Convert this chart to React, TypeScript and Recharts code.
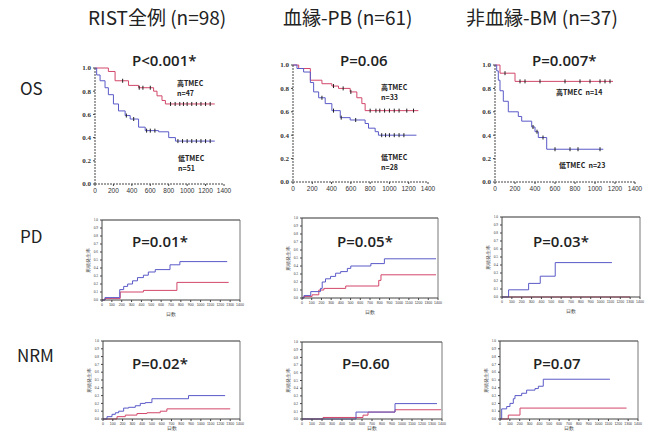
import React from 'react';
import { ComposedChart, Line, Scatter, XAxis, YAxis, ReferenceLine } from 'recharts';

type Pt = [number, number];

// Overall survival (OS): [day, survival]
const osAllHigh: Pt[] = [[0, 1], [145, 0.97], [218, 0.89], [364, 0.85], [473, 0.83], [636, 0.8], [673, 0.76], [727, 0.72], [764, 0.69], [1300, 0.69]];
const osAllLow: Pt[] = [[0, 1], [18, 0.94], [55, 0.89], [109, 0.83], [145, 0.77], [200, 0.69], [255, 0.63], [327, 0.59], [382, 0.56], [473, 0.49], [545, 0.46], [691, 0.45], [800, 0.4], [873, 0.37], [1300, 0.37]];
const osPbHigh: Pt[] = [[0, 1], [59, 0.97], [180, 0.87], [300, 0.84], [403, 0.82], [472, 0.8], [593, 0.77], [662, 0.72], [714, 0.67], [748, 0.61], [1300, 0.61]];
const osPbLow: Pt[] = [[0, 1], [41, 0.97], [110, 0.94], [180, 0.85], [214, 0.77], [266, 0.72], [334, 0.67], [403, 0.61], [490, 0.55], [593, 0.53], [748, 0.5], [783, 0.46], [852, 0.43], [886, 0.4], [1280, 0.4]];
const osBmHigh: Pt[] = [[0, 1], [50, 0.93], [200, 0.86], [1180, 0.86]];
const osBmLow: Pt[] = [[0, 1], [17, 0.95], [33, 0.87], [50, 0.78], [83, 0.69], [133, 0.6], [233, 0.56], [267, 0.52], [367, 0.47], [400, 0.43], [433, 0.38], [517, 0.28], [1083, 0.28]];

// censored cases (days)
const osAllHighCensor = [300, 480, 520, 600, 820, 870, 920, 960, 1000, 1050, 1100, 1150, 1200, 1250];
const osAllLowCensor = [340, 420, 560, 600, 650, 900, 950, 1000, 1050, 1100, 1150, 1200, 1250];
const osPbHighCensor = [420, 520, 600, 800, 860, 900, 950, 1000, 1050, 1100, 1180, 1250];
const osPbLowCensor = [300, 420, 500, 650, 920, 960, 1000, 1050, 1100, 1150];
const osBmHighCensor = [100, 250, 300, 450, 700, 850, 950, 1050, 1100, 1150];
const osBmLowCensor = [380, 420, 480, 600, 750, 830, 1050];

// Progression (PD): [day, cumulative incidence]
const pdAllHigh: Pt[] = [[0, 0], [30, 0.02], [185, 0.1], [420, 0.12], [760, 0.22], [1285, 0.22]];
const pdAllLow: Pt[] = [[0, 0], [30, 0.03], [180, 0.13], [220, 0.17], [260, 0.2], [310, 0.24], [360, 0.28], [420, 0.31], [470, 0.35], [540, 0.38], [690, 0.44], [790, 0.48], [1270, 0.48]];
const pdPbHigh: Pt[] = [[0, 0], [20, 0.02], [104, 0.04], [173, 0.1], [225, 0.12], [450, 0.15], [790, 0.22], [813, 0.29], [1380, 0.29]];
const pdPbLow: Pt[] = [[0, 0], [20, 0.03], [90, 0.08], [190, 0.12], [208, 0.2], [242, 0.24], [294, 0.27], [346, 0.31], [398, 0.33], [467, 0.37], [502, 0.4], [709, 0.43], [848, 0.49], [1380, 0.49]];
const pdBmHigh: Pt[] = [[0, 0], [1300, 0]];
const pdBmLow: Pt[] = [[0, 0], [67, 0.09], [270, 0.17], [388, 0.26], [540, 0.43], [1115, 0.43]];

// Non-relapse mortality (NRM)
const nrmAllHigh: Pt[] = [[0, 0], [143, 0.03], [228, 0.05], [347, 0.07], [449, 0.08], [585, 0.1], [653, 0.13], [1300, 0.13]];
const nrmAllLow: Pt[] = [[0, 0], [41, 0.03], [92, 0.06], [126, 0.08], [160, 0.1], [211, 0.14], [262, 0.15], [330, 0.17], [381, 0.2], [432, 0.21], [500, 0.26], [874, 0.3], [1248, 0.3]];
const nrmPbHigh: Pt[] = [[0, 0], [210, 0.02], [610, 0.05], [660, 0.09], [930, 0.12], [1390, 0.12]];
const nrmPbLow: Pt[] = [[0, 0], [540, 0.09], [930, 0.2], [1350, 0.2]];
const nrmBmHigh: Pt[] = [[0, 0], [84, 0.05], [203, 0.14], [1284, 0.14]];
const nrmBmLow: Pt[] = [[0, 0], [17, 0.13], [68, 0.16], [101, 0.2], [135, 0.26], [152, 0.3], [220, 0.33], [270, 0.37], [355, 0.39], [389, 0.42], [439, 0.51], [1115, 0.51]];

const groupTitles = ['RIST全例 (n=98)', '血縁-PB (n=61)', '非血縁-BM (n=37)'];
const osP = ['P<0.001*', 'P=0.06', 'P=0.007*'];
const pdP = ['P=0.01*', 'P=0.05*', 'P=0.03*'];
const nrmP = ['P=0.02*', 'P=0.60', 'P=0.07'];
const highN = [47, 33, 14];
const lowN = [51, 28, 23];

const osTicks = [0, 200, 400, 600, 800, 1000, 1200, 1400];
const osYTicks = [0, 0.2, 0.4, 0.6, 0.8, 1.0];
const boxTicks = [0, 100, 200, 300, 400, 500, 600, 700, 800, 900, 1000, 1100, 1200, 1300, 1400];
const boxYTicks = [0, 0.1, 0.2, 0.3, 0.4, 0.5, 0.6, 0.7, 0.8, 0.9, 1.0];

const RED = '#d2476a';
const BLUE = '#5a5ac8';
const JP = '"Noto Sans CJK JP", "Noto Sans", sans-serif';

const rows = (pts: Pt[]) => pts.map(([x, y]) => ({ x, y }));
const stepAt = (pts: Pt[], d: number) => {
  let v = pts[0][1];
  for (const [x, y] of pts) if (x <= d) v = y;
  return v;
};
const censorRows = (pts: Pt[], days: number[]) => days.map((d) => ({ x: d, y: stepAt(pts, d) }));

const CensorMark = (props: any) => {
  const { cx, cy } = props;
  if (cx == null || cy == null) return null;
  return <line x1={cx} x2={cx} y1={cy - 2} y2={cy + 2} stroke="#222" strokeWidth={1} />;
};

interface PanelProps {
  left: number;
  top: number;
  w: number;
  h: number;
  high: Pt[];
  low: Pt[];
  kind: 'os' | 'box';
  highCensor?: number[];
  lowCensor?: number[];
  xAxisH?: number;
}

const Panel = ({ left, top, w, h, high, low, kind, highCensor, lowCensor, xAxisH }: PanelProps) => {
  const os = kind === 'os';
  const yW = os ? 20 : 18;
  const xH = xAxisH ?? (os ? 14 : 17);
  const mTop = 4;
  const mRight = 14;
  return (
    <div style={{ position: 'absolute', left: left - yW, top: top - mTop }}>
      <ComposedChart
        width={yW + w + mRight}
        height={mTop + h + xH}
        margin={{ top: mTop, right: mRight, left: 0, bottom: 0 }}
      >
        <XAxis
          type="number"
          dataKey="x"
          domain={[0, 1400]}
          ticks={os ? osTicks : boxTicks}
          interval={0}
          height={xH}
          allowDataOverflow
          stroke="#444"
          strokeDasharray={os ? '2 1' : undefined}
          tickSize={2}
          tick={{ fontSize: os ? 6.5 : 3.5, fill: '#333', fontFamily: 'Liberation Sans' }}
          label={os ? undefined : { value: '日数', position: 'insideBottom', offset: 1, fontSize: 4.5, fill: '#444' }}
        />
        <YAxis
          type="number"
          domain={[0, 1]}
          ticks={os ? osYTicks : boxYTicks}
          interval={0}
          width={yW}
          stroke="#444"
          strokeDasharray={os ? '2 1' : undefined}
          tickSize={2}
          tickFormatter={(v: number) => v.toFixed(1)}
          tick={{ fontSize: os ? 7 : 3.5, fill: '#333', fontWeight: os ? 700 : 400, fontFamily: 'Liberation Serif' }}
          label={os ? undefined : { value: '累積発生率', angle: -90, position: 'insideLeft', offset: 4, fontSize: 4.5, fill: '#444', style: { textAnchor: 'middle' } }}
        />
        {!os && <ReferenceLine y={1} stroke="#333" strokeWidth={1.2} />}
        {!os && <ReferenceLine x={1400} stroke="#555" strokeWidth={0.8} />}
        <Line data={rows(high)} dataKey="y" type="stepAfter" stroke={RED} strokeWidth={1} dot={false} isAnimationActive={false} />
        <Line data={rows(low)} dataKey="y" type="stepAfter" stroke={BLUE} strokeWidth={1} dot={false} isAnimationActive={false} />
        {highCensor && <Scatter data={censorRows(high, highCensor)} dataKey="y" shape={CensorMark} isAnimationActive={false} />}
        {lowCensor && <Scatter data={censorRows(low, lowCensor)} dataKey="y" shape={CensorMark} isAnimationActive={false} />}
      </ComposedChart>
    </div>
  );
};

const Txt = ({ x, y, size, children, weight = 400, font = JP, lh = 1 }: any) => (
  <div style={{ position: 'absolute', left: x, top: y, fontSize: size, fontWeight: weight, fontFamily: font, color: '#222', whiteSpace: 'nowrap', lineHeight: lh }}>
    {children}
  </div>
);

const App = () => {
  const osLeft = [95, 293, 495];
  const osW = [129, 135, 140];
  const boxLeft = [102, 302, 502];
  const boxW = [138, 136, 138];
  const titleX = [88, 283, 466];
  const pX = [132, 340, 532];
  const pBoxX = [132, 337, 533];
  return (
    <div style={{ position: 'absolute', left: 0, top: 0, width: 659, height: 433, background: '#fff', overflow: 'hidden' }}>
      {groupTitles.map((t, i) => (
        <Txt key={t} x={titleX[i]} y={7} size={19}>{t}</Txt>
      ))}
      <Txt x={20} y={79} size={17}>OS</Txt>
      <Txt x={20} y={227} size={17}>PD</Txt>
      <Txt x={17} y={346} size={17}>NRM</Txt>

      <Panel left={osLeft[0]} top={68} w={osW[0]} h={116} high={osAllHigh} low={osAllLow} kind="os" highCensor={osAllHighCensor} lowCensor={osAllLowCensor} />
      <Panel left={osLeft[1]} top={65} w={osW[1]} h={117} high={osPbHigh} low={osPbLow} kind="os" highCensor={osPbHighCensor} lowCensor={osPbLowCensor} />
      <Panel left={osLeft[2]} top={65} w={osW[2]} h={117} high={osBmHigh} low={osBmLow} kind="os" highCensor={osBmHighCensor} lowCensor={osBmLowCensor} />

      <Panel left={boxLeft[0]} top={220} w={boxW[0]} h={80} high={pdAllHigh} low={pdAllLow} kind="box" />
      <Panel left={boxLeft[1]} top={218} w={boxW[1]} h={80} high={pdPbHigh} low={pdPbLow} kind="box" />
      <Panel left={boxLeft[2]} top={217} w={boxW[2]} h={80} high={pdBmHigh} low={pdBmLow} kind="box" />

      <Panel left={boxLeft[0] + 1} top={341} w={137} h={78} high={nrmAllHigh} low={nrmAllLow} kind="box" xAxisH={12} />
      <Panel left={boxLeft[1]} top={342} w={140} h={77} high={nrmPbHigh} low={nrmPbLow} kind="box" xAxisH={12} />
      <Panel left={boxLeft[2] - 2} top={341} w={138} h={78} high={nrmBmHigh} low={nrmBmLow} kind="box" xAxisH={12} />

      {osP.map((p, i) => (
        <Txt key={p} x={pX[i]} y={53} size={15} weight={600} font="Open Sans">{p}</Txt>
      ))}
      {pdP.map((p, i) => (
        <Txt key={p} x={pBoxX[i]} y={234} size={15} weight={600} font="Open Sans">{p}</Txt>
      ))}
      {nrmP.map((p, i) => (
        <Txt key={p} x={pBoxX[i] + (i === 1 ? 5 : 0)} y={356} size={15} weight={600} font="Open Sans">{p}</Txt>
      ))}

      <Txt x={177} y={78} size={7} weight={700} lh={1.45}>高TMEC<br />n={highN[0]}</Txt>
      <Txt x={178} y={153} size={7} weight={700} lh={1.45}>低TMEC<br />n={lowN[0]}</Txt>
      <Txt x={381} y={82} size={7} weight={700} lh={1.45}>高TMEC<br />n={highN[1]}</Txt>
      <Txt x={381} y={152} size={7} weight={700} lh={1.45}>低TMEC<br />n={lowN[1]}</Txt>
      <Txt x={556} y={89} size={7} weight={700}>高TMEC&nbsp;&nbsp;n={highN[2]}</Txt>
      <Txt x={559} y={162} size={7} weight={700}>低TMEC&nbsp;&nbsp;n={lowN[2]}</Txt>
    </div>
  );
};

export default App;
